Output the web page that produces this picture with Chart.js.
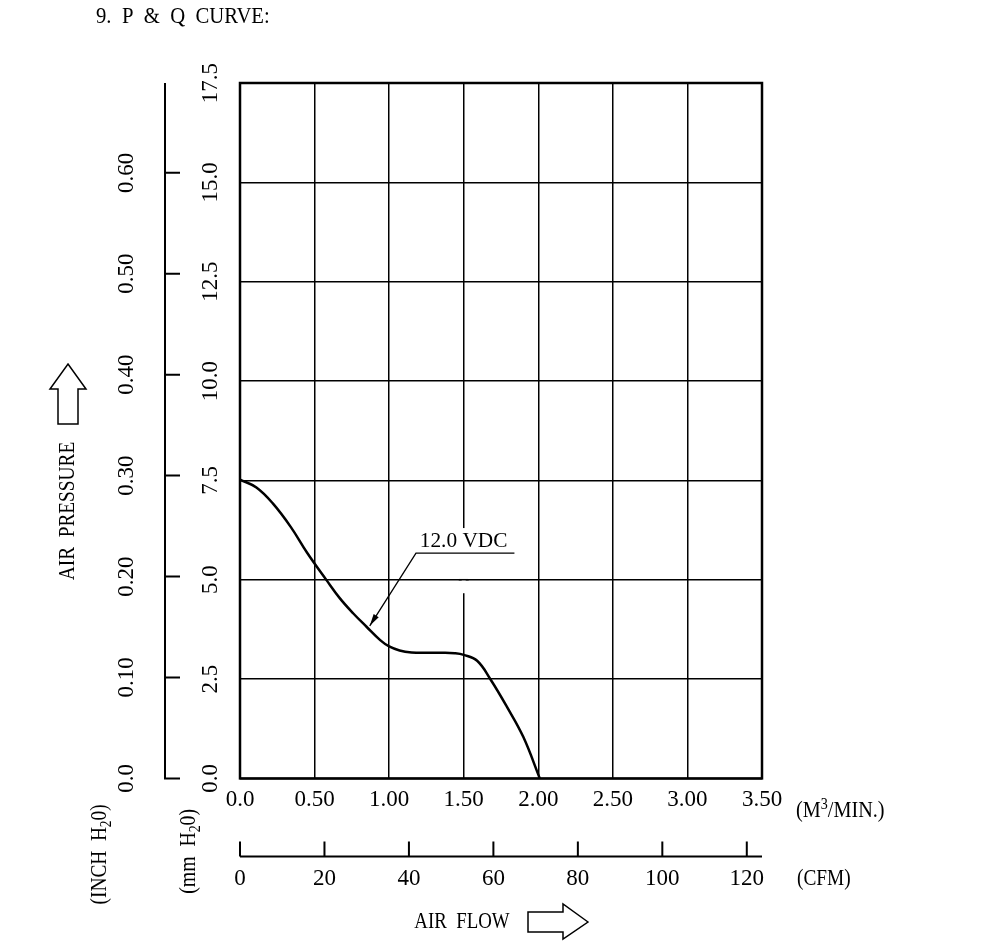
<!DOCTYPE html>
<html>
<head>
<meta charset="utf-8">
<script src="https://cdn.jsdelivr.net/npm/chart.js@4.4.0/dist/chart.umd.min.js"></script>
<style>
  html, body { margin: 0; padding: 0; background: #fff; }
</style>
</head>
<body>
<canvas id="pqChart" width="1000" height="946"></canvas>
<script>
// P & Q curve values (flow in m3/min, pressure in mm H2O)
const flowM3     = [0, 0.11, 0.22, 0.34, 0.45, 0.58, 0.67, 0.76, 0.85, 0.94, 1.00, 1.07, 1.15, 1.25, 1.35, 1.44, 1.50, 1.59, 1.68, 1.79, 1.90, 2.01];
const pressureMm = [7.52, 7.32, 6.92, 6.33, 5.68, 4.99, 4.53, 4.15, 3.81, 3.48, 3.32, 3.22, 3.17, 3.16, 3.16, 3.15, 3.11, 2.96, 2.49, 1.80, 1.04, 0];

const m3Labels   = ['0.0', '0.50', '1.00', '1.50', '2.00', '2.50', '3.00', '3.50'];
const mmTicks    = [0, 2.5, 5, 7.5, 10, 12.5, 15, 17.5];
const mmLabels   = ['0.0', '2.5', '5.0', '7.5', '10.0', '12.5', '15.0', '17.5'];
const inchTicks  = [0, 0.1, 0.2, 0.3, 0.4, 0.5, 0.6];
const inchLabels = ['0.0', '0.10', '0.20', '0.30', '0.40', '0.50', '0.60'];
const cfmTicks   = [0, 20, 40, 60, 80, 100, 120];
const cfmLabels  = ['0', '20', '40', '60', '80', '100', '120'];
const curveLabel = '12.0 VDC';

const CFM_PER_M3 = 35.3147;
const MM_PER_INCH = 25.4;
const FONT = '"Liberation Serif", "DejaVu Serif", serif';

// draw a run of text pieces (for sub/superscripts), optionally rotated
function rich(ctx, parts, x, y, size, opts) {
  opts = opts || {};
  const sx = opts.sx || 1;
  ctx.save();
  ctx.translate(x, y);
  if (opts.rotate) ctx.rotate(-Math.PI / 2);
  ctx.scale(sx, 1);
  ctx.fillStyle = '#000';
  ctx.textBaseline = 'middle';
  ctx.textAlign = 'left';
  let w = 0;
  parts.forEach(p => {
    ctx.font = Math.round(size * (p[1] || 1)) + 'px ' + FONT;
    w += ctx.measureText(p[0]).width;
  });
  let cx = opts.align === 'left' ? 0 : -w / 2;
  parts.forEach(p => {
    ctx.font = Math.round(size * (p[1] || 1)) + 'px ' + FONT;
    ctx.fillText(p[0], cx, (p[2] || 0) * size);
    cx += ctx.measureText(p[0]).width;
  });
  ctx.restore();
}

const drawingPlugin = {
  id: 'drawing',
  beforeDatasetsDraw(chart) {
    const { ctx, scales: { x, y } } = chart;
    // gap in the 1.50 grid line behind the curve label
    const gx = x.getPixelForValue(1.5);
    ctx.save();
    ctx.fillStyle = '#fff';
    ctx.fillRect(gx - 2, y.getPixelForValue(6.3), 4, y.getPixelForValue(4.66) - y.getPixelForValue(6.3));
    ctx.strokeStyle = '#000';
    ctx.lineWidth = 1.5;
    ctx.beginPath();
    ctx.moveTo(gx - 5, y.getPixelForValue(5));
    ctx.lineTo(gx + 5, y.getPixelForValue(5));
    ctx.stroke();
    ctx.restore();
  },
  afterDatasetsDraw(chart) {
    const { ctx, chartArea: a, scales: { x, y } } = chart;
    ctx.save();
    ctx.strokeStyle = '#000';
    ctx.fillStyle = '#000';

    // plot frame
    ctx.lineWidth = 2.5;
    ctx.strokeRect(a.left, a.top, a.right - a.left, a.bottom - a.top);

    // mm H2O labels (rotated)
    mmTicks.forEach((v, i) => rich(ctx, [[mmLabels[i]]], a.left - 29, y.getPixelForValue(v), 23, { rotate: true }));

    // inch H2O axis
    const ix = a.left - 75;
    ctx.lineWidth = 2;
    ctx.beginPath();
    ctx.moveTo(ix, a.top);
    ctx.lineTo(ix, a.bottom);
    ctx.lineTo(ix + 15, a.bottom);
    inchTicks.forEach(v => {
      const py = y.getPixelForValue(v * MM_PER_INCH);
      ctx.moveTo(ix, py);
      ctx.lineTo(ix + 15, py);
    });
    ctx.stroke();
    inchTicks.forEach((v, i) => rich(ctx, [[inchLabels[i]]], a.left - 113, y.getPixelForValue(v * MM_PER_INCH), 23, { rotate: true }));

    // CFM axis
    const cy = a.bottom + 78;
    const cfmX = v => x.getPixelForValue(v / CFM_PER_M3);
    ctx.lineWidth = 2;
    ctx.beginPath();
    ctx.moveTo(a.left, cy);
    ctx.lineTo(a.right, cy);
    cfmTicks.forEach(v => {
      ctx.moveTo(cfmX(v), cy);
      ctx.lineTo(cfmX(v), cy - 15);
    });
    ctx.stroke();
    cfmTicks.forEach((v, i) => rich(ctx, [[cfmLabels[i]]], cfmX(v), cy + 23, 23));

    // unit labels
    rich(ctx, [['(M'], ['3', 0.7, -0.3], ['/MIN.)']], a.right + 34, a.bottom + 33, 23, { align: 'left', sx: 0.88 });
    rich(ctx, [['(CFM)']], a.right + 35, cy + 23, 23, { align: 'left', sx: 0.84 });
    rich(ctx, [['(INCH  H'], ['2', 0.7, 0.3], ['0)']], a.left - 140, a.bottom + 76, 23, { rotate: true, sx: 0.84 });
    rich(ctx, [['(mm  H'], ['2', 0.7, 0.3], ['0)']], a.left - 51, a.bottom + 73, 23, { rotate: true, sx: 0.86 });

    // titles
    rich(ctx, [['9.  P  &  Q  CURVE:']], 96, 17, 23, { align: 'left', sx: 0.9 });
    rich(ctx, [['AIR  PRESSURE']], 68, 511, 23, { rotate: true, sx: 0.84 });
    rich(ctx, [['AIR  FLOW']], 462, 922, 23, { sx: 0.82 });

    // hollow arrows next to axis titles
    ctx.lineWidth = 1.5;
    ctx.beginPath();
    [[68, 364], [86, 389], [78, 389], [78, 424], [58, 424], [58, 389], [50, 389]].forEach((p, i) => i ? ctx.lineTo(p[0], p[1]) : ctx.moveTo(p[0], p[1]));
    ctx.closePath();
    ctx.stroke();
    ctx.beginPath();
    [[588, 922], [563, 904], [563, 912], [528, 912], [528, 932], [563, 932], [563, 939]].forEach((p, i) => i ? ctx.lineTo(p[0], p[1]) : ctx.moveTo(p[0], p[1]));
    ctx.closePath();
    ctx.stroke();

    // curve label with leader arrow
    const lx0 = x.getPixelForValue(1.18), lx1 = x.getPixelForValue(1.84), ly = y.getPixelForValue(5.67);
    const tx = x.getPixelForValue(0.87), ty = y.getPixelForValue(3.84);
    ctx.lineWidth = 1.3;
    ctx.beginPath();
    ctx.moveTo(lx1, ly);
    ctx.lineTo(lx0, ly);
    ctx.lineTo(tx, ty);
    ctx.stroke();
    const ang = Math.atan2(ty - ly, tx - lx0);
    ctx.beginPath();
    ctx.moveTo(tx, ty);
    ctx.lineTo(tx - 12 * Math.cos(ang) + 3 * Math.sin(ang), ty - 12 * Math.sin(ang) - 3 * Math.cos(ang));
    ctx.lineTo(tx - 12 * Math.cos(ang) - 3 * Math.sin(ang), ty - 12 * Math.sin(ang) + 3 * Math.cos(ang));
    ctx.closePath();
    ctx.fill();
    rich(ctx, [[curveLabel]], x.getPixelForValue(1.205), y.getPixelForValue(5.97), 22, { align: 'left', sx: 0.97 });

    ctx.restore();
  }
};

const ctx = document.getElementById('pqChart').getContext('2d');
const pqChart = new Chart(ctx, {
  type: 'line',
  data: {
    datasets: [{
      label: curveLabel,
      data: flowM3.map((q, i) => ({ x: q, y: pressureMm[i] })),
      borderColor: '#000',
      borderWidth: 2.5,
      pointRadius: 0,
      fill: false,
      tension: 0.4
    }]
  },
  options: {
    responsive: false,
    animation: false,
    layout: { padding: { left: 240, right: 238, top: 83, bottom: 124 } },
    plugins: {
      legend: { display: false },
      tooltip: { enabled: false }
    },
    scales: {
      x: {
        type: 'linear',
        min: 0,
        max: 3.5,
        grid: { color: '#000', lineWidth: 1.5, drawTicks: false },
        border: { display: false },
        ticks: {
          stepSize: 0.5,
          padding: 8,
          color: '#000',
          font: { family: FONT, size: 23 },
          callback: (v, i) => m3Labels[i]
        }
      },
      y: {
        min: 0,
        max: 17.5,
        grid: { color: '#000', lineWidth: 1.5, drawTicks: false },
        border: { display: false },
        ticks: { stepSize: 2.5, display: false }
      }
    }
  },
  plugins: [drawingPlugin]
});
</script>
</body>
</html>
